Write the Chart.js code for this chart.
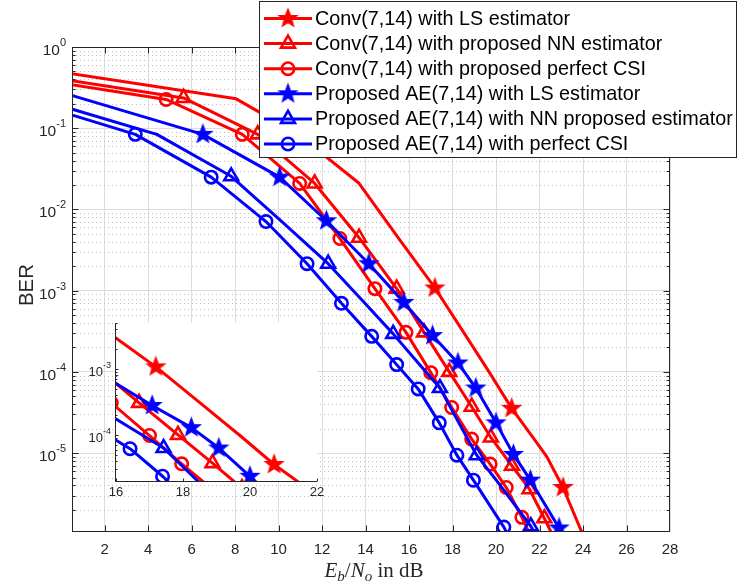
<!DOCTYPE html>
<html><head><meta charset="utf-8">
<script src="https://cdn.jsdelivr.net/npm/chart.js@4.4.1/dist/chart.umd.min.js"></script>
<style>
html,body{margin:0;padding:0;background:#fff;}
#wrap{position:relative;width:739px;height:585px;}
#wrap canvas{position:absolute;left:0;top:0;}
</style></head><body>
<div id="wrap"><canvas id="main" width="739" height="585"></canvas><canvas id="inset" width="739" height="585"></canvas></div>
<script>
// ---------------- data ----------------
const seriesNames = [
  'Conv(7,14) with LS estimator',
  'Conv(7,14) with proposed NN estimator',
  'Conv(7,14) with proposed perfect CSI',
  'Proposed AE(7,14) with LS estimator',
  'Proposed AE(7,14) with NN proposed estimator',
  'Proposed AE(7,14) with perfect CSI'
];
const snrConvLS  = [0, 8.05, 10.9, 13.7, 15.58, 17.19, 18.51, 19.7, 20.72, 21.72, 22.34, 23.08, 24.3];
const berConvLS  = [0.49, 0.23, 0.084, 0.021, 4.2e-3, 1.08e-3, 3.07e-4, 9.8e-5, 3.56e-5, 1.53e-5, 9.0e-6, 3.78e-6, 6.3e-7];
const snrConvNN  = [0, 5.63, 9.04, 11.66, 13.7, 15.43, 16.69, 17.85, 18.88, 19.76, 20.73, 21.54, 22.22, 22.95];
const berConvNN  = [0.403, 0.236, 0.0841, 0.0209, 4.49e-3, 1.06e-3, 3.07e-4, 1.0e-4, 3.73e-5, 1.56e-5, 7.0e-6, 3.6e-6, 1.58e-6, 6.3e-7];
const snrConvCSI = [0, 4.83, 8.33, 10.97, 12.82, 14.43, 15.86, 17.0, 17.96, 18.88, 19.73, 20.47, 21.19, 21.9];
const berConvCSI = [0.359, 0.226, 0.0841, 0.0209, 4.39e-3, 1.06e-3, 3.07e-4, 9.8e-5, 3.65e-5, 1.49e-5, 7.34e-6, 3.78e-6, 1.62e-6, 6.3e-7];
const snrAELS    = [0, 6.52, 10.05, 12.2, 14.15, 15.76, 17.08, 18.25, 19.07, 20.0, 20.8, 21.58, 22.9, 23.6];
const berAELS    = [0.277, 0.0841, 0.025, 7.26e-3, 2.15e-3, 7.18e-4, 2.8e-4, 1.29e-4, 6.33e-5, 2.36e-5, 9.66e-6, 4.65e-6, 1.2e-6, 5.6e-7];
const snrAENN    = [0, 4.4, 7.82, 10.15, 12.28, 13.97, 15.27, 16.45, 17.42, 18.29, 19.11, 20.01, 21.6, 22.3];
const berAENN    = [0.188, 0.0841, 0.0256, 7.1e-3, 2.15e-3, 7.0e-4, 2.94e-4, 1.26e-4, 6.33e-5, 2.36e-5, 9.44e-6, 4.65e-6, 1.26e-6, 5.6e-7];
const snrAECSI   = [0, 3.41, 6.9, 9.42, 11.31, 12.89, 14.28, 15.43, 16.42, 17.39, 18.2, 18.96, 20.36, 21.0];
const berAECSI   = [0.16, 0.0841, 0.025, 7.1e-3, 2.15e-3, 7.0e-4, 2.74e-4, 1.23e-4, 6.18e-5, 2.36e-5, 9.44e-6, 4.65e-6, 1.23e-6, 5.6e-7];
// which points carry a marker
const marksConvLS = [2, 5, 8, 11];
const marksAENN   = [2, 4, 6, 8, 10, 12];

const xTickVals = [2,4,6,8,10,12,14,16,18,20,22,24,26,28];
const yTickExps = [0,-1,-2,-3,-4,-5];
const insetXTickVals = [16,18,20,22];
const insetYTickExps = [-3,-4];

// ---------------- styling ----------------
const RED = '#ff0000', BLUE = '#0000ff', AX = '#262626';
const SANS = '"Liberation Sans", Arial, sans-serif';
const SERIF = '"Liberation Serif", "Times New Roman", serif';
const LINE_W = 3, MARK_W = 2.6;
function makeStar(color, R){
  const s = Math.ceil(2*R+4); const c = document.createElement('canvas'); c.width = s; c.height = s;
  const g = c.getContext('2d'); g.translate(s/2, s/2); g.beginPath();
  for (let i=0;i<10;i++){ const r = i%2 ? R*0.42 : R; const a = -Math.PI/2 + i*Math.PI/5; g.lineTo(r*Math.cos(a), r*Math.sin(a)); }
  g.closePath(); g.fillStyle = color; g.fill(); g.strokeStyle = color; g.lineWidth = 1.2; g.stroke();
  return c;
}
const starR = makeStar(RED, 9.5), starB = makeStar(BLUE, 9.5);

const seriesDefs = [
  {x: snrConvLS,  y: berConvLS,  color: RED,  marker: 'star',     marks: marksConvLS},
  {x: snrConvNN,  y: berConvNN,  color: RED,  marker: 'triangle', marks: null},
  {x: snrConvCSI, y: berConvCSI, color: RED,  marker: 'circle',   marks: null},
  {x: snrAELS,    y: berAELS,    color: BLUE, marker: 'star',     marks: null},
  {x: snrAENN,    y: berAENN,    color: BLUE, marker: 'triangle', marks: marksAENN},
  {x: snrAECSI,   y: berAECSI,   color: BLUE, marker: 'circle',   marks: null}
];
function markerRadius(m){ return m === 'star' ? 9.5 : (m === 'triangle' ? 8 : 6.2); }
function buildDatasets(){
  return seriesDefs.map((s, i) => ({
    label: seriesNames[i],
    data: s.x.map((v, j) => ({x: v, y: s.y[j]})),
    borderColor: s.color,
    backgroundColor: 'rgba(0,0,0,0)',
    borderWidth: LINE_W,
    borderJoinStyle: 'round',
    tension: 0,
    pointStyle: s.marker === 'star' ? (s.color === RED ? starR : starB) : s.marker,
    pointRadius: c => (s.marks === null || s.marks.includes(c.dataIndex)) ? markerRadius(s.marker) : 0,
    pointBorderColor: s.color,
    pointBackgroundColor: 'rgba(0,0,0,0)',
    pointBorderWidth: MARK_W,
    pointHoverRadius: 0,
    order: 6 - i
  }));
}

function drawPow(ctx, exp, xRight, py, baseSize, supSize, dyBase, dySup){
  ctx.textAlign = 'right'; ctx.textBaseline = 'alphabetic';
  ctx.font = supSize + 'px ' + SANS; const sup = String(exp); const ws = ctx.measureText(sup).width;
  ctx.fillText(sup, xRight, py + dySup);
  ctx.font = baseSize + 'px ' + SANS; ctx.fillText('10', xRight - ws, py + dyBase);
}
function drawMarker(ctx, m, color, x, y){
  if (m === 'star'){ const img = color === RED ? starR : starB; ctx.drawImage(img, x - img.width/2, y - img.height/2); return; }
  const r = markerRadius(m);
  ctx.save(); ctx.strokeStyle = color; ctx.lineWidth = MARK_W; ctx.beginPath();
  if (m === 'circle') ctx.arc(x, y, r, 0, Math.PI*2);
  else { let a = 0; for (let k=0;k<3;k++){ ctx.lineTo(x + Math.sin(a)*r, y - Math.cos(a)*r); a += 2*Math.PI/3; } ctx.closePath(); }
  ctx.stroke(); ctx.restore();
}

// ---------------- main chart ----------------
const mainDeco = {
  id: 'mainDeco',
  beforeDraw(chart){ const c = chart.ctx; c.save(); c.fillStyle = '#fff'; c.fillRect(0,0,chart.width,chart.height); c.restore(); },
  beforeDatasetsDraw(chart){
    const {ctx, chartArea: a, scales: {y}} = chart;
    ctx.save(); ctx.strokeStyle = '#bfbfbf'; ctx.lineWidth = 1; ctx.setLineDash([1,3]);
    for (let e=-6; e<0; e++) for (let k=2; k<=9; k++){
      const v = k*Math.pow(10,e); if (v < y.min || v > y.max) continue;
      const py = Math.round(y.getPixelForValue(v)) + 0.5;
      ctx.beginPath(); ctx.moveTo(a.left, py); ctx.lineTo(a.right, py); ctx.stroke();
    }
    ctx.restore();
  },
  afterDatasetsDraw(chart){
    const {ctx, chartArea: a, scales: {x, y}} = chart;
    const L = Math.round(a.left)+0.5, R = Math.round(a.right)-0.5, T = Math.round(a.top)+0.5, B = Math.round(a.bottom)-0.5;
    ctx.save(); ctx.strokeStyle = AX; ctx.lineWidth = 1;
    ctx.strokeRect(L, T, R-L, B-T);
    ctx.beginPath();
    xTickVals.forEach(v => { const px = Math.round(x.getPixelForValue(v))+0.5; if (px >= R-1) return;
      ctx.moveTo(px, B); ctx.lineTo(px, B-6); ctx.moveTo(px, T); ctx.lineTo(px, T+6); });
    for (let e=-6; e<=0; e++) for (let k=1; k<=9; k++){
      const v = k*Math.pow(10,e); if (v < y.min || v > y.max) continue;
      const py = Math.round(y.getPixelForValue(v))+0.5; const len = k === 1 ? 6 : 3;
      ctx.moveTo(L, py); ctx.lineTo(L+len, py); ctx.moveTo(R, py); ctx.lineTo(R-len, py);
    }
    ctx.stroke(); ctx.restore();
  },
  afterDraw(chart){
    const {ctx, chartArea: a, scales: {x, y}} = chart;
    ctx.save(); ctx.fillStyle = AX;
    ctx.font = '15px ' + SANS; ctx.textAlign = 'center'; ctx.textBaseline = 'middle';
    xTickVals.forEach(v => ctx.fillText(String(v), x.getPixelForValue(v), 550));
    yTickExps.forEach(e => drawPow(ctx, e, 66, y.getPixelForValue(Math.pow(10,e)), 15.5, 11, 8, -1));
    // y label
    ctx.save(); ctx.translate(27, 285); ctx.rotate(-Math.PI/2); ctx.font = '20.5px ' + SANS;
    ctx.textAlign = 'center'; ctx.textBaseline = 'middle'; ctx.fillText('BER', 0, 0); ctx.restore();
    // x label: E_b/N_o in dB
    const parts = [
      ['E', 'italic 21px ' + SERIF, 0], ['b', 'italic 15px ' + SERIF, 4], ['/', '21px ' + SERIF, 0],
      ['N', 'italic 21px ' + SERIF, 0], ['o', 'italic 15px ' + SERIF, 4], [' in dB', '21px ' + SERIF, 0]
    ];
    let tw = 0; parts.forEach(p => { ctx.font = p[1]; p.push(ctx.measureText(p[0]).width); tw += p[3]; });
    let cx = (a.left + a.right)/2 - tw/2 + 3; ctx.textAlign = 'left'; ctx.textBaseline = 'alphabetic';
    parts.forEach(p => { ctx.font = p[1]; ctx.fillText(p[0], cx, 577 + p[2]); cx += p[3]; });
    // legend
    const lx = 259.5, ly = 1.5, lw = 477, lh = 156;
    ctx.fillStyle = '#fff'; ctx.fillRect(lx, ly, lw, lh);
    ctx.strokeStyle = AX; ctx.lineWidth = 1; ctx.strokeRect(lx, ly, lw, lh);
    seriesDefs.forEach((s, i) => {
      const ry = 18.5 + i*25.1;
      ctx.strokeStyle = s.color; ctx.lineWidth = LINE_W; ctx.beginPath(); ctx.moveTo(264, ry); ctx.lineTo(312, ry); ctx.stroke();
      drawMarker(ctx, s.marker, s.color, 288, ry);
      ctx.fillStyle = '#000'; ctx.font = '19.8px ' + SANS; ctx.textAlign = 'left'; ctx.textBaseline = 'middle';
      ctx.fillText(seriesNames[i], 315, ry + 1);
    });
    ctx.restore();
  }
};

Chart.defaults.font.family = SANS;
new Chart(document.getElementById('main'), {
  type: 'line',
  data: {datasets: buildDatasets()},
  options: {
    responsive: false, animation: false, devicePixelRatio: 1,
    layout: {padding: {left: 72, top: 47, right: 69, bottom: 53}},
    plugins: {legend: {display: false}, tooltip: {enabled: false}},
    events: [],
    scales: {
      x: {type: 'linear', min: 0.5, max: 28,
          afterBuildTicks: s => { s.ticks = xTickVals.map(v => ({value: v})); },
          afterFit: s => { s.height = 0; },
          ticks: {display: false}, grid: {color: '#dedede', lineWidth: 1, drawTicks: false}, border: {display: false}},
      y: {type: 'logarithmic', min: 1.07e-6, max: 1,
          afterBuildTicks: s => { s.ticks = yTickExps.map(e => ({value: Math.pow(10, e)})); },
          afterFit: s => { s.width = 0; },
          ticks: {display: false}, grid: {color: '#dedede', lineWidth: 1, drawTicks: false}, border: {display: false}}
    }
  },
  plugins: [mainDeco]
});

// ---------------- inset chart ----------------
const insetDeco = {
  id: 'insetDeco',
  beforeDraw(chart){ const {ctx, chartArea: a} = chart; ctx.save(); ctx.fillStyle = '#fff'; ctx.fillRect(a.left, a.top, a.right-a.left, a.bottom-a.top); ctx.restore(); },
  afterDatasetsDraw(chart){
    const {ctx, chartArea: a, scales: {x, y}} = chart;
    const L = Math.round(a.left)-0.5, B = Math.round(a.bottom)+0.5;
    ctx.save(); ctx.strokeStyle = AX; ctx.lineWidth = 1; ctx.beginPath();
    ctx.moveTo(L, Math.round(a.top)); ctx.lineTo(L, B); ctx.lineTo(Math.round(a.right), B);
    insetXTickVals.forEach(v => { const px = Math.round(x.getPixelForValue(v))+0.5; ctx.moveTo(px, B); ctx.lineTo(px, B-3); });
    for (let e=-5; e<=-3; e++) for (let k=1; k<=9; k++){
      const v = k*Math.pow(10,e); if (v < y.min || v > y.max) continue;
      const py = Math.round(y.getPixelForValue(v))+0.5; const len = k === 1 ? 3 : 2;
      ctx.moveTo(L, py); ctx.lineTo(L+len, py);
    }
    ctx.stroke(); ctx.restore();
  },
  afterDraw(chart){
    const {ctx, scales: {x, y}} = chart;
    ctx.save(); ctx.fillStyle = AX; ctx.font = '13px ' + SANS; ctx.textAlign = 'center'; ctx.textBaseline = 'middle';
    insetXTickVals.forEach(v => ctx.fillText(String(v), x.getPixelForValue(v), 492));
    insetYTickExps.forEach(e => drawPow(ctx, e, 111, y.getPixelForValue(Math.pow(10,e)), 13, 9, 7, -1));
    ctx.restore();
  }
};
new Chart(document.getElementById('inset'), {
  type: 'line',
  data: {datasets: buildDatasets()},
  options: {
    responsive: false, animation: false, devicePixelRatio: 1,
    layout: {padding: {left: 116, top: 323, right: 422, bottom: 104}},
    plugins: {legend: {display: false}, tooltip: {enabled: false}},
    events: [],
    scales: {
      x: {type: 'linear', min: 16, max: 22,
          afterBuildTicks: s => { s.ticks = insetXTickVals.map(v => ({value: v})); },
          afterFit: s => { s.height = 0; },
          ticks: {display: false}, grid: {display: false, drawTicks: false}, border: {display: false}},
      y: {type: 'logarithmic', min: 2e-5, max: 5e-3,
          afterBuildTicks: s => { s.ticks = insetYTickExps.map(e => ({value: Math.pow(10, e)})); },
          afterFit: s => { s.width = 0; },
          ticks: {display: false}, grid: {display: false, drawTicks: false}, border: {display: false}}
    }
  },
  plugins: [insetDeco]
});
</script>
</body></html>
